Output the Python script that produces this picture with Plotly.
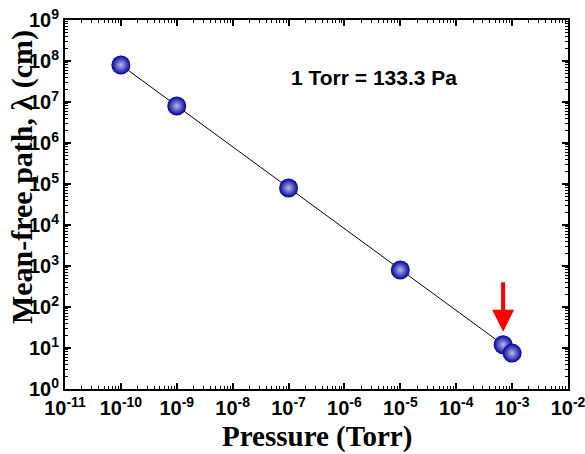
import plotly.graph_objects as go
import math

pressure_torr = [1e-10, 1e-9, 1e-7, 1e-5, 6.9e-4, 1e-3]
mean_free_path_cm = [8e7, 8e6, 8e4, 8e2, 12, 7.5]

x_tick_vals = [1e-11, 1e-10, 1e-9, 1e-8, 1e-7, 1e-6, 1e-5, 1e-4, 1e-3, 1e-2]
x_tick_text = ["<b>10<sup>-11</sup></b>", "<b>10<sup>-10</sup></b>", "<b>10<sup>-9</sup></b>",
               "<b>10<sup>-8</sup></b>", "<b>10<sup>-7</sup></b>", "<b>10<sup>-6</sup></b>",
               "<b>10<sup>-5</sup></b>", "<b>10<sup>-4</sup></b>", "<b>10<sup>-3</sup></b>",
               "<b>10<sup>-2</sup></b>"]
y_tick_vals = [1e0, 1e1, 1e2, 1e3, 1e4, 1e5, 1e6, 1e7, 1e8, 1e9]
y_tick_text = ["<b>10<sup>%d</sup></b>" % i for i in range(10)]

arrow_target_x = pressure_torr[4]
arrow_target_y = mean_free_path_cm[4]

fig = go.Figure()
fig.add_trace(go.Scatter(
    x=pressure_torr, y=mean_free_path_cm, mode="lines+markers",
    line=dict(color="black", width=1),
    marker=dict(size=19, color="#00009a",
                gradient=dict(type="radial", color="#b8b8f0"),
                line=dict(width=0)),
    showlegend=False,
))

axis_common = dict(
    type="log", showgrid=False, zeroline=False,
    showline=True, linecolor="black", linewidth=2, mirror="ticks",
    ticks="inside", ticklen=6, tickwidth=2, tickcolor="black",
    minor=dict(ticks="inside", ticklen=3, tickwidth=1, tickcolor="black", dtick="D1"),
    tickfont=dict(family="Arial, Liberation Sans", size=20, color="black", weight="bold"),
    ticklabeloverflow="allow", automargin=False,
)

fig.update_xaxes(range=[-11, -2], tickvals=x_tick_vals, ticktext=x_tick_text, **axis_common)
fig.update_yaxes(range=[0, 9], tickvals=y_tick_vals, ticktext=y_tick_text, **axis_common)

fig.add_annotation(
    text="<b>Pressure (Torr)</b>",
    xref="paper", yref="paper", x=0.5, y=-0.13, xanchor="center", yanchor="middle",
    showarrow=False,
    font=dict(family="Times New Roman, Liberation Serif", size=29, color="black"),
)
fig.add_annotation(
    text="<b>Mean-free path, λ (cm)</b>", textangle=-90,
    xref="paper", yref="paper", x=-0.085, y=0.575, xanchor="center", yanchor="middle",
    showarrow=False,
    font=dict(family="Times New Roman, Liberation Serif", size=30, color="black"),
)
fig.add_annotation(
    text="<b>1 Torr = 133.3 Pa</b>", xref="paper", yref="paper",
    x=0.614, y=0.843, xanchor="center", yanchor="middle", showarrow=False,
    font=dict(family="Arial, Liberation Sans", size=21, color="black"),
)
fig.add_annotation(
    x=math.log10(arrow_target_x), y=math.log10(arrow_target_y),
    xref="x", yref="y", text="", showarrow=True,
    arrowhead=2, arrowsize=1.1, arrowwidth=4, arrowcolor="#ff0000",
    ax=0, ay=-64, standoff=13,
)

fig.update_layout(
    width=585, height=454,
    margin=dict(l=65, r=17, t=20, b=65, autoexpand=False),
    paper_bgcolor="white", plot_bgcolor="white",
)
fig.write_html("out.html", config={"displayModeBar": False},
               post_script="document.body.style.margin='0';")
